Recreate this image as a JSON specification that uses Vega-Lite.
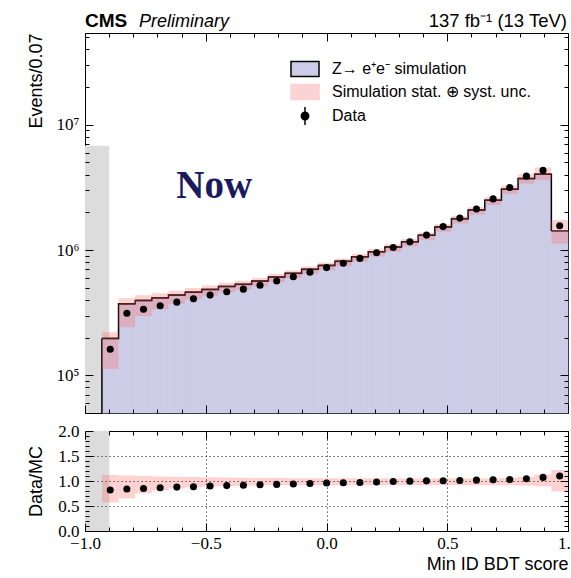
{
  "$schema": "https://vega.github.io/schema/vega-lite/v6.json",
  "background": "white",
  "padding": {"left": 26, "top": 11, "right": 0, "bottom": 0},
  "spacing": 6,
  "datasets": {
    "bins": [
      {"lo": -0.93, "hi": -0.8611, "x": -0.8955, "mc": 197000, "data": 161540, "mc_lo": 112290, "mc_hi": 220640, "ratio": 0.82, "r_lo": 0.57, "r_hi": 1.12},
      {"lo": -0.8611, "hi": -0.7921, "x": -0.8266, "mc": 372000, "data": 312480, "mc_lo": 241800, "mc_hi": 412920, "ratio": 0.84, "r_lo": 0.65, "r_hi": 1.11},
      {"lo": -0.7921, "hi": -0.7232, "x": -0.7577, "mc": 396000, "data": 336600, "mc_lo": 297000, "mc_hi": 435600, "ratio": 0.85, "r_lo": 0.75, "r_hi": 1.10},
      {"lo": -0.7232, "hi": -0.6543, "x": -0.6887, "mc": 415000, "data": 358975, "mc_lo": 336150, "mc_hi": 452350, "ratio": 0.865, "r_lo": 0.81, "r_hi": 1.09},
      {"lo": -0.6543, "hi": -0.5854, "x": -0.6198, "mc": 437000, "data": 383686, "mc_lo": 371450, "mc_hi": 474145, "ratio": 0.878, "r_lo": 0.85, "r_hi": 1.085},
      {"lo": -0.5854, "hi": -0.5164, "x": -0.5509, "mc": 461000, "data": 408446, "mc_lo": 403375, "mc_hi": 497880, "ratio": 0.886, "r_lo": 0.875, "r_hi": 1.08},
      {"lo": -0.5164, "hi": -0.4475, "x": -0.4820, "mc": 485000, "data": 436500, "mc_lo": 431650, "mc_hi": 521375, "ratio": 0.90, "r_lo": 0.89, "r_hi": 1.075},
      {"lo": -0.4475, "hi": -0.3786, "x": -0.4130, "mc": 512000, "data": 464896, "mc_lo": 460800, "mc_hi": 547840, "ratio": 0.908, "r_lo": 0.90, "r_hi": 1.07},
      {"lo": -0.3786, "hi": -0.3096, "x": -0.3441, "mc": 532000, "data": 487312, "mc_lo": 481460, "mc_hi": 566580, "ratio": 0.916, "r_lo": 0.905, "r_hi": 1.065},
      {"lo": -0.3096, "hi": -0.2407, "x": -0.2752, "mc": 565000, "data": 522625, "mc_lo": 514150, "mc_hi": 598900, "ratio": 0.925, "r_lo": 0.91, "r_hi": 1.06},
      {"lo": -0.2407, "hi": -0.1718, "x": -0.2062, "mc": 608000, "data": 566656, "mc_lo": 556320, "mc_hi": 643264, "ratio": 0.932, "r_lo": 0.915, "r_hi": 1.058},
      {"lo": -0.1718, "hi": -0.1029, "x": -0.1373, "mc": 651000, "data": 611940, "mc_lo": 595665, "mc_hi": 687456, "ratio": 0.94, "r_lo": 0.915, "r_hi": 1.056},
      {"lo": -0.1029, "hi": -0.0339, "x": -0.0684, "mc": 701000, "data": 665950, "mc_lo": 641415, "mc_hi": 739555, "ratio": 0.95, "r_lo": 0.915, "r_hi": 1.055},
      {"lo": -0.0339, "hi": 0.0350, "x": 0.0005, "mc": 754000, "data": 723840, "mc_lo": 689910, "mc_hi": 794716, "ratio": 0.96, "r_lo": 0.915, "r_hi": 1.054},
      {"lo": 0.0350, "hi": 0.1039, "x": 0.0695, "mc": 812000, "data": 783580, "mc_lo": 742980, "mc_hi": 855036, "ratio": 0.965, "r_lo": 0.915, "r_hi": 1.053},
      {"lo": 0.1039, "hi": 0.1729, "x": 0.1384, "mc": 884000, "data": 857480, "mc_lo": 808860, "mc_hi": 930852, "ratio": 0.97, "r_lo": 0.915, "r_hi": 1.053},
      {"lo": 0.1729, "hi": 0.2418, "x": 0.2073, "mc": 969000, "data": 949620, "mc_lo": 886635, "mc_hi": 1020357, "ratio": 0.98, "r_lo": 0.915, "r_hi": 1.053},
      {"lo": 0.2418, "hi": 0.3107, "x": 0.2762, "mc": 1057000, "data": 1046430, "mc_lo": 967155, "mc_hi": 1113021, "ratio": 0.99, "r_lo": 0.915, "r_hi": 1.053},
      {"lo": 0.3107, "hi": 0.3796, "x": 0.3452, "mc": 1165000, "data": 1161505, "mc_lo": 1065975, "mc_hi": 1226745, "ratio": 0.997, "r_lo": 0.915, "r_hi": 1.053},
      {"lo": 0.3796, "hi": 0.4486, "x": 0.4141, "mc": 1311000, "data": 1314933, "mc_lo": 1199565, "mc_hi": 1380483, "ratio": 1.003, "r_lo": 0.915, "r_hi": 1.053},
      {"lo": 0.4486, "hi": 0.5175, "x": 0.4830, "mc": 1530000, "data": 1537650, "mc_lo": 1399950, "mc_hi": 1611090, "ratio": 1.005, "r_lo": 0.915, "r_hi": 1.053},
      {"lo": 0.5175, "hi": 0.5864, "x": 0.5520, "mc": 1780000, "data": 1797800, "mc_lo": 1628700, "mc_hi": 1874340, "ratio": 1.01, "r_lo": 0.915, "r_hi": 1.053},
      {"lo": 0.5864, "hi": 0.6554, "x": 0.6209, "mc": 2090000, "data": 2125530, "mc_lo": 1912350, "mc_hi": 2200770, "ratio": 1.017, "r_lo": 0.915, "r_hi": 1.053},
      {"lo": 0.6554, "hi": 0.7243, "x": 0.6898, "mc": 2500000, "data": 2560000, "mc_lo": 2287500, "mc_hi": 2637500, "ratio": 1.024, "r_lo": 0.915, "r_hi": 1.055},
      {"lo": 0.7243, "hi": 0.7932, "x": 0.7587, "mc": 3060000, "data": 3151800, "mc_lo": 2799900, "mc_hi": 3258900, "ratio": 1.03, "r_lo": 0.915, "r_hi": 1.065},
      {"lo": 0.7932, "hi": 0.8621, "x": 0.8277, "mc": 3720000, "data": 3887400, "mc_lo": 3385200, "mc_hi": 4036200, "ratio": 1.045, "r_lo": 0.91, "r_hi": 1.085},
      {"lo": 0.8621, "hi": 0.9311, "x": 0.8966, "mc": 4030000, "data": 4320160, "mc_lo": 3606850, "mc_hi": 4553900, "ratio": 1.072, "r_lo": 0.895, "r_hi": 1.13},
      {"lo": 0.9311, "hi": 1.0, "x": 0.9655, "mc": 1420000, "data": 1562000, "mc_lo": 1121800, "mc_hi": 1732400, "ratio": 1.10, "r_lo": 0.79, "r_hi": 1.22}
    ],
    "legendRows": [
      {"series": "Z→ e⁺e⁻ simulation"},
      {"series": "Simulation stat. ⊕ syst. unc."},
      {"series": "Data"}
    ]
  },
  "vconcat": [
    {
      "width": 483,
      "height": 380,
      "data": {"name": "bins"},
      "layer": [
        {
          "data": {"values": [{}]},
          "mark": {"type": "rect", "color": "#dcdcdc"},
          "encoding": {
            "x": {"datum": -1, "type": "quantitative", "axis": null},
            "x2": {"datum": -0.9},
            "y": {"datum": 50000, "type": "quantitative", "axis": null},
            "y2": {"datum": 6800000}
          }
        },
        {
          "mark": {"type": "rect", "color": "#ccccE6", "stroke": "#ccccE6", "strokeWidth": 0.6},
          "encoding": {
            "x": {
              "field": "lo", "type": "quantitative",
              "scale": {"domain": [-1, 1], "nice": false, "zero": false},
              "axis": {"orient": "bottom", "zindex": 1, "values": [-1, -0.5, 0, 0.5, 1], "labels": false, "title": null, "grid": false, "tickSize": 8, "offset": -8}
            },
            "x2": {"field": "hi"},
            "y": {
              "field": "mc", "type": "quantitative",
              "scale": {"type": "log", "domain": [50000, 54000000], "nice": false},
              "axis": {
                "orient": "left", "zindex": 1,
                "values": [100000, 1000000, 10000000],
                "labelExpr": "datum.value == 100000 ? '10⁵' : datum.value == 1000000 ? '10⁶' : '10⁷'",
                "title": "Events/0.07", "titleAnchor": "end", "titlePadding": 11, "grid": false,
                "labelPadding": 6, "tickSize": 8, "offset": -8
              }
            },
            "y2": {"datum": 50000}
          }
        },
        {
          "mark": {"type": "line", "interpolate": "step-after", "color": "black", "strokeWidth": 1.5},
          "encoding": {
            "x": {
              "field": "lo", "type": "quantitative",
              "axis": {"orient": "bottom", "zindex": 1, "values": [-0.9, -0.8, -0.7, -0.6, -0.4, -0.3, -0.2, -0.1, 0.1, 0.2, 0.3, 0.4, 0.6, 0.7, 0.8, 0.9], "labels": false, "title": null, "grid": false, "tickSize": 4, "offset": -4}
            },
            "y": {
              "field": "mc", "type": "quantitative",
              "axis": {"orient": "left", "zindex": 1, "values": [60000, 70000, 80000, 90000, 200000, 300000, 400000, 500000, 600000, 700000, 800000, 900000, 2000000, 3000000, 4000000, 5000000, 6000000, 7000000, 8000000, 9000000, 20000000, 30000000, 40000000, 50000000], "labels": false, "title": null, "grid": false, "tickSize": 4, "offset": -4}
            }
          }
        },
        {
          "mark": {"type": "rule", "color": "black", "strokeWidth": 1.5},
          "encoding": {
            "x": {
              "field": "lo", "type": "quantitative",
              "axis": {"orient": "top", "zindex": 1, "values": [-0.9, -0.8, -0.7, -0.6, -0.4, -0.3, -0.2, -0.1, 0.1, 0.2, 0.3, 0.4, 0.6, 0.7, 0.8, 0.9], "labels": false, "title": null, "grid": false, "tickSize": 4, "offset": -4}
            },
            "x2": {"field": "hi"},
            "y": {
              "field": "mc", "type": "quantitative",
              "axis": {"orient": "right", "zindex": 1, "values": [60000, 70000, 80000, 90000, 200000, 300000, 400000, 500000, 600000, 700000, 800000, 900000, 2000000, 3000000, 4000000, 5000000, 6000000, 7000000, 8000000, 9000000, 20000000, 30000000, 40000000, 50000000], "labels": false, "title": null, "grid": false, "tickSize": 4, "offset": -4}
            }
          }
        },
        {
          "transform": [{"filter": "datum.lo < -0.92"}],
          "mark": {"type": "rule", "color": "black", "strokeWidth": 1.5},
          "encoding": {
            "x": {"field": "lo", "type": "quantitative", "axis": null},
            "y": {"field": "mc", "type": "quantitative", "axis": null},
            "y2": {"datum": 50000}
          }
        },
        {
          "mark": {"type": "rect", "color": "#ff6b6b", "opacity": 0.3},
          "encoding": {
            "x": {"field": "lo", "type": "quantitative", "axis": null},
            "x2": {"field": "hi"},
            "y": {"field": "mc_lo", "type": "quantitative", "axis": null},
            "y2": {"field": "mc_hi"}
          }
        },
        {
          "mark": {"type": "circle", "color": "black", "size": 50, "opacity": 1},
          "encoding": {
            "x": {
              "field": "x", "type": "quantitative",
              "axis": {"orient": "top", "zindex": 1, "values": [-1, -0.5, 0, 0.5, 1], "labels": false, "title": null, "grid": false, "tickSize": 8, "offset": -8}
            },
            "y": {
              "field": "data", "type": "quantitative",
              "axis": {"orient": "right", "zindex": 1, "values": [100000, 1000000, 10000000], "labels": false, "title": null, "grid": false, "tickSize": 8, "offset": -8}
            }
          }
        },
        {
          "data": {"values": [{}]},
          "mark": {"type": "text", "text": "CMS", "font": "Liberation Sans", "fontWeight": "bold", "fontSize": 19, "align": "left", "baseline": "alphabetic", "dy": -6, "color": "black"},
          "encoding": {
            "x": {"datum": -1, "type": "quantitative", "axis": null},
            "y": {"datum": 54000000, "type": "quantitative", "axis": null}
          }
        },
        {
          "data": {"values": [{}]},
          "mark": {"type": "text", "text": "Preliminary", "font": "Liberation Sans", "fontStyle": "italic", "fontSize": 18, "align": "left", "baseline": "alphabetic", "dx": 54, "dy": -6, "color": "black"},
          "encoding": {
            "x": {"datum": -1, "type": "quantitative", "axis": null},
            "y": {"datum": 54000000, "type": "quantitative", "axis": null}
          }
        },
        {
          "data": {"values": [{}]},
          "mark": {"type": "text", "text": "137 fb⁻¹ (13 TeV)", "font": "Liberation Sans", "fontSize": 18.5, "align": "right", "baseline": "alphabetic", "dx": -1, "dy": -6, "color": "black"},
          "encoding": {
            "x": {"datum": 1, "type": "quantitative", "axis": null},
            "y": {"datum": 54000000, "type": "quantitative", "axis": null}
          }
        },
        {
          "data": {"values": [{}]},
          "mark": {"type": "text", "text": "Now", "font": "Liberation Serif", "fontWeight": "bold", "fontSize": 39, "align": "center", "baseline": "alphabetic", "color": "#1b1a5e"},
          "encoding": {
            "x": {"datum": -0.465, "type": "quantitative", "axis": null},
            "y": {"datum": 2600000, "type": "quantitative", "axis": null}
          }
        },
        {
          "data": {"name": "legendRows"},
          "transform": [{"filter": "false"}],
          "mark": {"type": "point", "filled": true},
          "encoding": {
            "fill": {
              "field": "series", "type": "nominal",
              "scale": {"domain": ["Z→ e⁺e⁻ simulation", "Simulation stat. ⊕ syst. unc.", "Data"], "range": ["#ccccE6", "#fcd3d5", "black"]},
              "legend": {"title": null, "orient": "none", "legendX": 209, "legendY": 25, "symbolSize": 400, "labelFont": "Liberation Sans", "labelFontSize": 16, "labelColor": "black", "labelOffset": 16, "labelLimit": 0, "rowPadding": 1, "symbolStrokeWidth": 1.5, "padding": 0, "symbolOpacity": 1}
            },
            "stroke": {
              "field": "series", "type": "nominal",
              "scale": {"domain": ["Z→ e⁺e⁻ simulation", "Simulation stat. ⊕ syst. unc.", "Data"], "range": ["black", "#fcd3d5", "black"]},
              "legend": {"title": null, "orient": "none", "legendX": 209, "legendY": 25, "symbolSize": 400, "labelFont": "Liberation Sans", "labelFontSize": 16, "labelColor": "black", "labelOffset": 16, "labelLimit": 0, "rowPadding": 1, "symbolStrokeWidth": 1.5, "padding": 0, "symbolOpacity": 1}
            },
            "shape": {
              "field": "series", "type": "nominal",
              "scale": {"domain": ["Z→ e⁺e⁻ simulation", "Simulation stat. ⊕ syst. unc.", "Data"], "range": ["M-1.4,-0.75L1.4,-0.75L1.4,0.75L-1.4,0.75Z", "M-1.4,-0.75L1.4,-0.75L1.4,0.75L-1.4,0.75Z", "M0,-0.9L0,0.9M0.37,0A0.37,0.37,0,1,1,-0.37,0A0.37,0.37,0,1,1,0.37,0Z"]},
              "legend": {"title": null, "orient": "none", "legendX": 209, "legendY": 25, "symbolSize": 400, "labelFont": "Liberation Sans", "labelFontSize": 16, "labelColor": "black", "labelOffset": 16, "labelLimit": 0, "rowPadding": 1, "symbolStrokeWidth": 1.5, "padding": 0, "symbolOpacity": 1}
            }
          }
        }
      ],
      "resolve": {"axis": {"x": "independent", "y": "independent"}}
    },
    {
      "width": 483,
      "height": 100,
      "data": {"name": "bins"},
      "layer": [
        {
          "data": {"values": [{}]},
          "mark": {"type": "rect", "color": "#dcdcdc"},
          "encoding": {
            "x": {
              "datum": -1, "type": "quantitative",
              "axis": {"orient": "bottom", "zindex": 1, "values": [-0.9, -0.8, -0.7, -0.6, -0.4, -0.3, -0.2, -0.1, 0.1, 0.2, 0.3, 0.4, 0.6, 0.7, 0.8, 0.9], "labels": false, "title": null, "grid": false, "tickSize": 4, "offset": -4}
            },
            "x2": {"datum": -0.9},
            "y": {
              "datum": 0, "type": "quantitative",
              "axis": {"orient": "left", "zindex": 1, "values": [0.1, 0.2, 0.3, 0.4, 0.6, 0.7, 0.8, 0.9, 1.1, 1.2, 1.3, 1.4, 1.6, 1.7, 1.8, 1.9], "labels": false, "title": null, "grid": false, "tickSize": 4, "offset": -4}
            },
            "y2": {"datum": 2}
          }
        },
        {
          "data": {"values": [{}]},
          "mark": {"type": "rect", "color": "#dcdcdc"},
          "encoding": {
            "x": {
              "datum": -1, "type": "quantitative",
              "axis": {"orient": "top", "zindex": 1, "values": [-0.9, -0.8, -0.7, -0.6, -0.4, -0.3, -0.2, -0.1, 0.1, 0.2, 0.3, 0.4, 0.6, 0.7, 0.8, 0.9], "labels": false, "title": null, "grid": false, "tickSize": 4, "offset": -4}
            },
            "x2": {"datum": -0.9},
            "y": {
              "datum": 0, "type": "quantitative",
              "axis": {"orient": "right", "zindex": 1, "values": [0.1, 0.2, 0.3, 0.4, 0.6, 0.7, 0.8, 0.9, 1.1, 1.2, 1.3, 1.4, 1.6, 1.7, 1.8, 1.9], "labels": false, "title": null, "grid": false, "tickSize": 4, "offset": -4}
            },
            "y2": {"datum": 2}
          }
        },
        {
          "mark": {"type": "rect", "color": "#ff6b6b", "opacity": 0.3},
          "encoding": {
            "x": {
              "field": "lo", "type": "quantitative",
              "scale": {"domain": [-1, 1], "nice": false, "zero": false},
              "axis": {
                "orient": "bottom", "zindex": 1,
                "values": [-1, -0.5, 0, 0.5, 1],
                "format": ".1f",
                "title": "Min ID BDT score", "titleAnchor": "end", "titlePadding": 4,
                "labelPadding": 4,
                "grid": true, "gridColor": "#333", "gridDash": [1.2, 2.8], "gridWidth": 1,
                "gridOpacity": {"condition": {"test": "abs(datum.value) < 0.9", "value": 1}, "value": 0},
                "tickSize": 8, "offset": -8
              }
            },
            "x2": {"field": "hi"},
            "y": {
              "field": "r_lo", "type": "quantitative",
              "scale": {"domain": [0, 2], "nice": false},
              "axis": {
                "orient": "left", "zindex": 1,
                "values": [0, 0.5, 1, 1.5, 2],
                "format": ".1f",
                "title": "Data/MC", "titlePadding": 12,
                "labelPadding": 6,
                "grid": true, "gridColor": "#333", "gridDash": [1.2, 2.8], "gridWidth": 1,
                "gridOpacity": {"condition": {"test": "datum.value > 0.1 && datum.value < 1.9", "value": 1}, "value": 0},
                "tickSize": 8, "offset": -8
              }
            },
            "y2": {"field": "r_hi"}
          }
        },
        {
          "mark": {"type": "circle", "color": "black", "size": 50, "opacity": 1},
          "encoding": {
            "x": {
              "field": "x", "type": "quantitative",
              "axis": {"orient": "top", "zindex": 1, "values": [-1, -0.5, 0, 0.5, 1], "labels": false, "title": null, "grid": false, "tickSize": 8, "offset": -8}
            },
            "y": {
              "field": "ratio", "type": "quantitative",
              "axis": {"orient": "right", "zindex": 1, "values": [0, 0.5, 1, 1.5, 2], "labels": false, "title": null, "grid": false, "tickSize": 8, "offset": -8}
            }
          }
        }
      ],
      "resolve": {"axis": {"x": "independent", "y": "independent"}}
    }
  ],
  "config": {
    "view": {"stroke": "black", "strokeWidth": 1},
    "axis": {
      "domain": false,
      "labelFlush": false,
      "labelOverlap": false,
      "ticks": true,
      "tickColor": "black",
      "tickWidth": 1,
      "tickOpacity": 1,
      "labelFont": "Liberation Serif",
      "labelFontSize": 17,
      "labelColor": "black",
      "titleFont": "Liberation Sans",
      "titleFontSize": 18,
      "titleFontWeight": "normal",
      "titleColor": "black"
    }
  }
}
